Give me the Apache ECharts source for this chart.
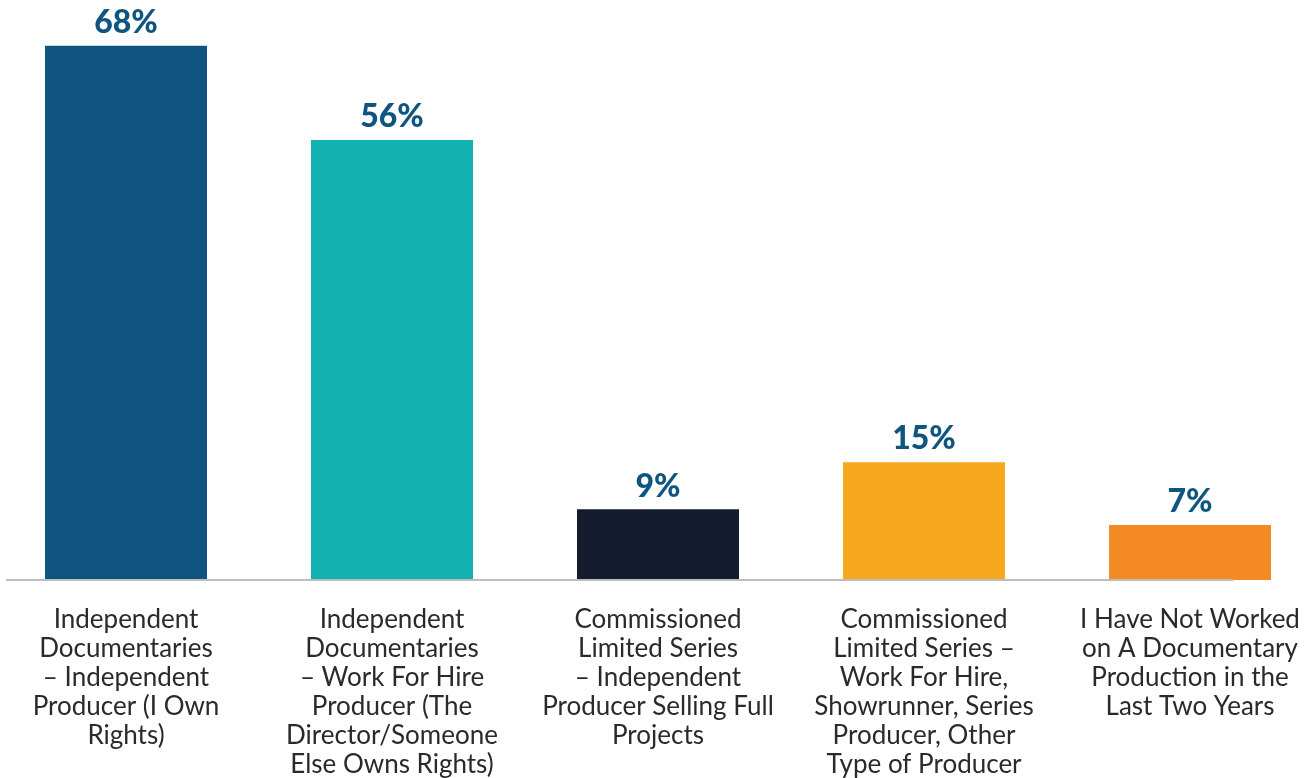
<!DOCTYPE html>
<html><head><meta charset="utf-8">
<script src="https://cdn.jsdelivr.net/npm/echarts@6/dist/echarts.min.js"></script>
<style>html,body{margin:0;padding:0;background:#fff}#c{width:1313px;height:778px}</style>
</head><body><div id="c"></div>
<script>
const categories = [
  "Independent\nDocumentaries\n– Independent\nProducer (I Own\nRights)",
  "Independent\nDocumentaries\n– Work For Hire\nProducer (The\nDirector/Someone\nElse Owns Rights)",
  "Commissioned\nLimited Series\n– Independent\nProducer Selling Full\nProjects",
  "Commissioned\nLimited Series –\nWork For Hire,\nShowrunner, Series\nProducer, Other\nType of Producer",
  "I Have Not Worked\non A Documentary\nProduction in the\nLast Two Years"
];
const values = [68, 56, 9, 15, 7];
const colors = ["#0f5580", "#13b2b0", "#141b2f", "#f8a81e", "#f48a23"];

const chart = echarts.init(document.getElementById('c'), null, {renderer: 'canvas'});
chart.setOption({
  animation: false,
  grid: {left: -7, width: 1330, top: 30, bottom: 198, containLabel: false, outerBoundsMode: 'none'},
  xAxis: {
    type: 'category', data: categories,
    axisLine: {show: false}, axisTick: {show: false},
    axisLabel: {interval: 0, color: '#2a2a2a', fontFamily: 'Lato', fontSize: 26, lineHeight: 29, margin: 25}
  },
  yAxis: {type: 'value', min: 0, max: 70, show: false, splitLine: {show: false}},
  graphic: [{type: 'line', shape: {x1: 6, y1: 580, x2: 1233, y2: 580}, style: {stroke: '#bdbdbd', lineWidth: 2}, z: 10}],
  series: [{
    type: 'bar', barWidth: 162,
    data: values.map((v, i) => ({value: v, itemStyle: {color: colors[i]}})),
    label: {show: true, position: 'top', distance: 7, formatter: '{c}%', color: '#0f5580', fontFamily: 'Lato', fontWeight: 900, fontSize: 32}
  }]
});
</script></body></html>
